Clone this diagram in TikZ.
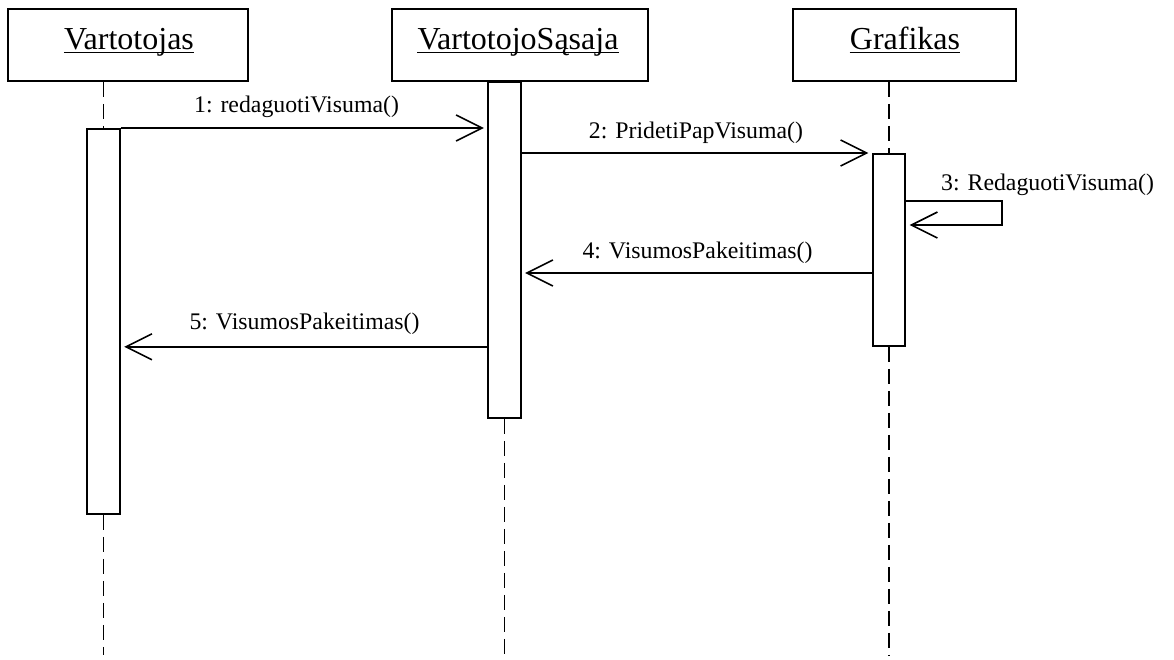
\documentclass[tikz,border=0pt]{standalone}
\usepackage{fontspec}
\setmainfont{Liberation Serif}
\usetikzlibrary{arrows.meta}
\begin{document}
\begin{tikzpicture}[x=1pt,y=-1pt,
  header/.style={draw, line width=1.8pt, rectangle, inner sep=0pt, minimum height=72pt},
  title/.style={inner sep=0pt, anchor=base, font=\fontsize{32}{38}\selectfont},
  uline/.style={line width=1.6pt},
  act/.style={draw, line width=1.8pt, rectangle, inner sep=0pt, minimum width=32.5pt, anchor=north, fill=white},
  life/.style={line width=1.8pt, dash pattern=on 15pt off 7pt},
  msg/.style={line width=1.6pt, shorten >=3.5pt, -{Straight Barb[length=26pt, width=26pt, line width=1.6pt]}},
  lbl/.style={inner sep=0pt, anchor=base, font=\fontsize{23.8}{28}\selectfont}]
\useasboundingbox (0,0) rectangle (1174,659);
\coordinate (bottom) at (0,655);

% object headers
\node[header, minimum width=240pt] (h1) at (128,45) {};
\node[header, minimum width=256pt] (h2) at (520,45) {};
\node[header, minimum width=223pt] (h3) at (904.5,45) {};
\node[title] (t1) at (129,49) {Vartotojas};
\node[title] (t2) at (518,49) {VartotojoSąsaja};
\node[title] (t3) at (905,49) {Grafikas};
\foreach \t in {t1,t2,t3}
  \draw[uline] ([yshift=-3.5pt]\t.base west) -- ([yshift=-3.5pt]\t.base east);

% activation bars
\node[act, minimum height=385pt] (a1) at (103.5,128) {};
\node[act, minimum height=336pt] (a2) at (504.5,81) {};
\node[act, minimum height=192pt] (a3) at (889,153) {};

% lifelines
\draw[life] (a1.north |- h1.south) -- (a1.north);
\draw[life] (a1.south) -- (a1.south |- bottom);
\draw[life] (a2.south) -- (a2.south |- bottom);
\draw[life] (a3.north |- h3.south) -- (a3.north);
\draw[life] (a3.south) -- (a3.south |- bottom);

% messages
\draw[msg] (a1.north east) -- (a1.north east -| a2.west);
\node[lbl] (m1) at (296.5,112) {1: redaguotiVisuma()};

\draw[msg] (a2.east |- a3.north west) -- (a3.north west);
\node[lbl] (m2) at (696,138) {2: PridetiPapVisuma()};

\coordinate (s0) at (905,201);
\coordinate (s1) at (1002,201);
\coordinate (s2) at (1002,225);
\draw[msg] (a3.east |- s0) -- (s1) -- (s2) -- (a3.east |- s2);
\node[lbl, anchor=base west] (m3) at (941,190) {3: RedaguotiVisuma()};

\coordinate (y4) at (0,273);
\draw[msg] (a3.west |- y4) -- (a2.east |- y4);
\node[lbl] (m4) at (697.5,258) {4: VisumosPakeitimas()};

\draw[msg] (a2.west |- a3.south) -- (a1.east |- a3.south);
\node[lbl] (m5) at (304.5,329) {5: VisumosPakeitimas()};
\end{tikzpicture}
\end{document}
